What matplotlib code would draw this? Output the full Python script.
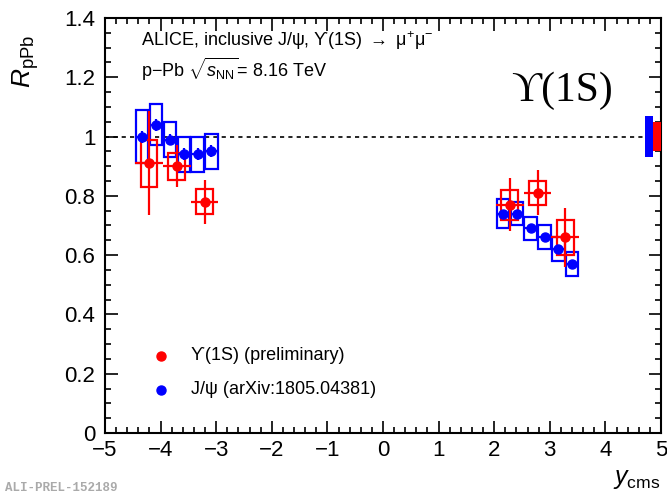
import numpy as np
import matplotlib.pyplot as plt
from matplotlib.patches import Rectangle
from matplotlib.ticker import MultipleLocator, FuncFormatter

# J/psi R_pPb vs y_cms (backward + forward)
jpsi_y = [-4.335, -4.085, -3.835, -3.585, -3.335, -3.085,
          2.155, 2.405, 2.655, 2.905, 3.155, 3.405]
jpsi_r = [1.00, 1.04, 0.99, 0.94, 0.94, 0.95,
          0.74, 0.74, 0.69, 0.66, 0.62, 0.57]
jpsi_stat = [0.02, 0.02, 0.02, 0.02, 0.02, 0.02,
             0.01, 0.01, 0.01, 0.01, 0.01, 0.01]
jpsi_sys = [0.09, 0.07, 0.06, 0.06, 0.06, 0.06,
            0.05, 0.04, 0.04, 0.04, 0.04, 0.04]
jpsi_global = 0.07

# Upsilon(1S) R_pPb (preliminary)
ups_y = [-4.21, -3.71, -3.21, 2.28, 2.78, 3.28]
ups_r = [0.91, 0.90, 0.78, 0.77, 0.81, 0.66]
ups_stat = [0.175, 0.07, 0.075, 0.09, 0.076, 0.10]
ups_sys = [0.08, 0.045, 0.042, 0.05, 0.041, 0.06]
ups_global = 0.05

red = "#ff0000"
blue = "#0000ff"
font = ["Liberation Sans", "DejaVu Sans"]
plt.rcParams["font.family"] = font
plt.rcParams["mathtext.fontset"] = "custom"
plt.rcParams["mathtext.rm"] = "Liberation Sans"
plt.rcParams["mathtext.it"] = "Liberation Sans:italic"
plt.rcParams["mathtext.sf"] = "Liberation Sans"

UPS = "\u03d2"   # upsilon with hook
PSI = "\u03c8"
MU = "\u03bc"

fig = plt.figure(figsize=(6.67, 4.95), dpi=100)
ax = fig.add_axes([0.1574, 0.1253, 0.8336, 0.8383])

ax.axhline(1.0, color="black", ls=(0, (2.5, 2.5)), lw=1.2, zorder=1)


def draw_set(x, r, stat, sys, xerr, box_hw, color):
    for xi, ri, si in zip(x, r, sys):
        ax.add_patch(Rectangle((xi - box_hw, ri - si), 2 * box_hw, 2 * si,
                               fill=False, edgecolor=color, lw=1.6, zorder=3))
    ax.errorbar(x, r, yerr=stat, xerr=xerr, fmt="o", color=color,
                ms=6.5, elinewidth=1.6, capsize=0, zorder=4)


draw_set(jpsi_y, jpsi_r, jpsi_stat, jpsi_sys, 0.125, 0.11, blue)
draw_set(ups_y, ups_r, ups_stat, ups_sys, 0.25, 0.15, red)

# global uncertainties at unity
ax.add_patch(Rectangle((4.71, 1 - jpsi_global), 0.15, 2 * jpsi_global,
                       color=blue, lw=0, zorder=5))
ax.add_patch(Rectangle((4.86, 1 - ups_global), 0.14, 2 * ups_global,
                       color=red, lw=0, zorder=5))

ax.set_xlim(-5, 5)
ax.set_ylim(0, 1.4)
ax.xaxis.set_major_locator(MultipleLocator(1))
ax.xaxis.set_minor_locator(MultipleLocator(0.2))
ax.yaxis.set_major_locator(MultipleLocator(0.2))
ax.yaxis.set_minor_locator(MultipleLocator(0.05))
ax.yaxis.set_major_formatter(FuncFormatter(lambda v, p: f"{v:g}"))
ax.tick_params(which="both", direction="in", top=True, right=True,
               width=1.2, labelsize=16)
ax.tick_params(which="major", length=9)
ax.tick_params(which="minor", length=4.5)
ax.tick_params(axis="x", pad=5)
ax.tick_params(axis="y", pad=7)
for s in ax.spines.values():
    s.set_linewidth(1.5)

ax.text(-4.35, 1.305,
        f"ALICE, inclusive J/{PSI}, {UPS}(1S) $\\rightarrow$ {MU}$^{{+}}${MU}$^{{-}}$",
        fontsize=13)
ax.text(-4.35, 1.2, r"p$-$Pb $\sqrt{s_{\rm NN}}$= 8.16 TeV", fontsize=13)
ax.text(2.3, 1.12, f"{UPS}(1S)", fontsize=30,
        family=["Liberation Serif", "DejaVu Serif"])

# legend entries
ax.plot([-4.0], [0.26], "o", color=red, ms=6.5)
ax.text(-3.45, 0.26, f"{UPS}(1S) (preliminary)", fontsize=13, va="center")
ax.plot([-4.0], [0.145], "o", color=blue, ms=6.5)
ax.text(-3.45, 0.145, f"J/{PSI} (arXiv:1805.04381)", fontsize=13, va="center")

fig.text(0.015, 0.93, r"$R_{\rm pPb}$", fontsize=19, rotation=90, ha="left", va="top")
fig.text(0.99, 0.008, r"$y_{\rm cms}$", fontsize=18, ha="right", va="bottom")
fig.text(0.008, 0.008, "ALI-PREL-152189", fontsize=9, color="#aaaaaa",
         family="Liberation Mono", weight="bold")

fig.savefig("out.png", dpi=100)
